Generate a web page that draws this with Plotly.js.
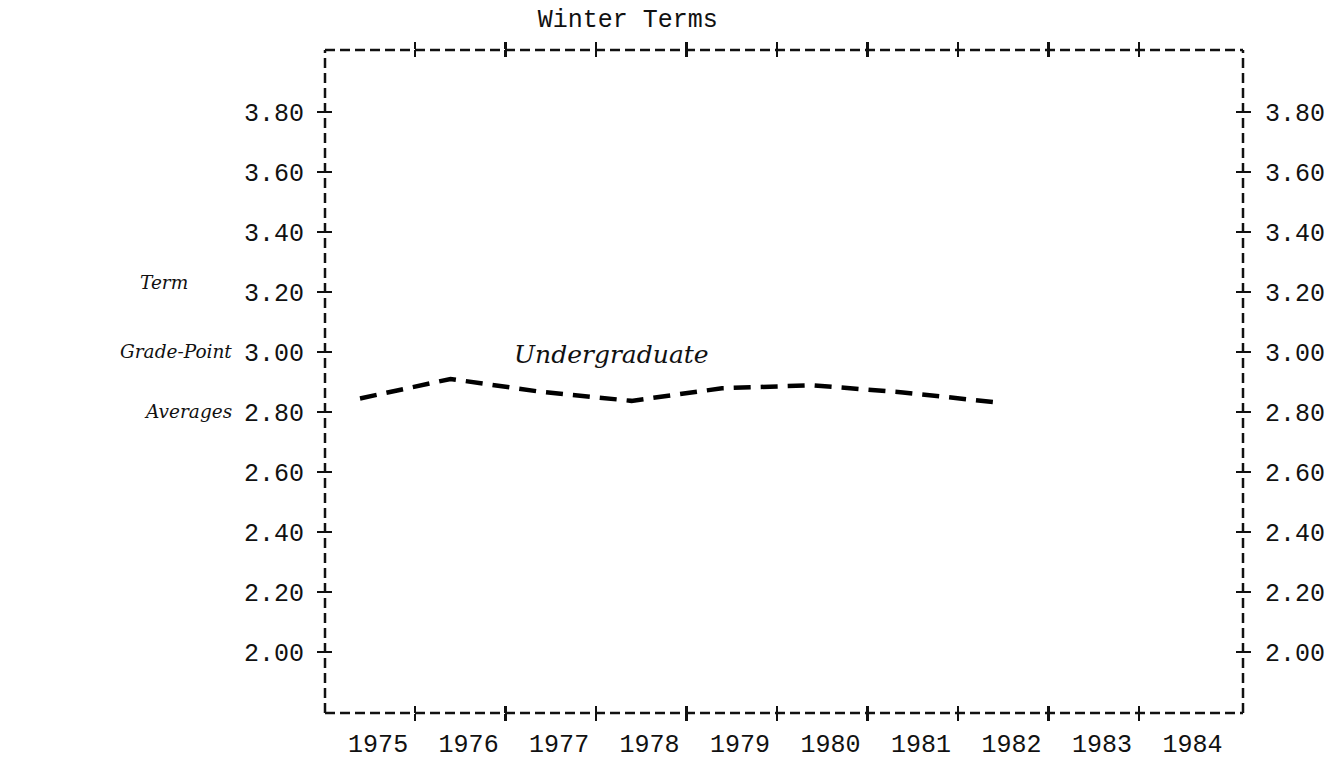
<!DOCTYPE html>
<html>
<head>
<meta charset="utf-8">
<script src="https://cdn.plot.ly/plotly-3.0.1.min.js"></script>
<style>html,body{margin:0;padding:0;background:#fff;}#chart{width:1344px;height:759px;}</style>
</head>
<body>
<div id="chart"></div>
<script>
// ---- data ----
var years = [1975, 1976, 1977, 1978, 1979, 1980, 1981, 1982];
var gpaUndergrad = [2.845, 2.91, 2.867, 2.837, 2.879, 2.889, 2.865, 2.833];
var yearLabels = ['1975','1976','1977','1978','1979','1980','1981','1982','1983','1984'];
var yTickVals = [2.0, 2.2, 2.4, 2.6, 2.8, 3.0, 3.2, 3.4, 3.6, 3.8];
var yTickText = ['2.00','2.20','2.40','2.60','2.80','3.00','3.20','3.40','3.60','3.80'];
var seriesName = 'Undergraduate';
var titleText = 'Winter Terms';
var yTitleLines = ['Term', 'Grade-Point', 'Averages'];

// ---- layout helpers ----
var xRange = [1974.613, 1984.757];
var yRange = [1.797, 4.006];
var labelPos = [], plusPos = [];
for (var i = 0; i < yearLabels.length; i++) labelPos.push(+yearLabels[i] + 0.2);
for (var j = 0; j < 9; j++) plusPos.push(1975.608 + j);

var mono = 'Liberation Mono, Courier New, monospace';
var ital = 'DejaVu Serif, Liberation Serif, serif';
var tickFont = {family: mono, size: 25, color: '#111'};
var TL = 7, TW = 2.3;

function ax(range, extra) {
  var a = {range: range, showgrid: false, zeroline: false, showline: false,
           fixedrange: true, tickcolor: '#111', tickwidth: TW, ticklen: TL};
  for (var k in extra) a[k] = extra[k];
  return a;
}

var traces = [{
  x: years, y: gpaUndergrad, type: 'scatter', mode: 'lines',
  name: seriesName, showlegend: false, hoverinfo: 'skip',
  line: {color: '#000', width: 4.5, dash: '17px,10px'}
}];
// empty helper traces so that every overlay axis is drawn
var overlayPairs = [['x2','y'],['x3','y'],['x4','y'],['x5','y'],['x','y2'],['x','y3'],['x','y4'],['x','y5'],['x','y6']];
overlayPairs.forEach(function (p) {
  traces.push({x: [], y: [], type: 'scatter', mode: 'lines', xaxis: p[0], yaxis: p[1], showlegend: false, hoverinfo: 'skip'});
});

var border = {color: '#111', width: 2.5, dash: '10px,5px'};
var shapes = [
  {type: 'line', xref: 'paper', yref: 'paper', x0: 0, x1: 1, y0: 1, y1: 1, line: border},
  {type: 'line', xref: 'paper', yref: 'paper', x0: 0, x1: 1, y0: 0, y1: 0, line: border},
  {type: 'line', xref: 'paper', yref: 'paper', x0: 0, x1: 0, y0: 0, y1: 1, line: border},
  {type: 'line', xref: 'paper', yref: 'paper', x0: 1, x1: 1, y0: 0, y1: 1, line: border}
];

var annotations = [];
var yTitleY = [3.23, 3.0, 2.8];
var yTitleX = [-0.2033, -0.2259, -0.1994];
for (var m = 0; m < yTitleLines.length; m++) {
  annotations.push({text: yTitleLines[m], xref: 'paper', yref: 'y', x: yTitleX[m], y: yTitleY[m],
    xanchor: 'left', yanchor: 'middle', showarrow: false,
    font: {family: ital, size: 18.5, color: '#111', style: 'italic'}});
}
annotations.push({text: seriesName, xref: 'x', yref: 'y', x: 1977.78, y: 2.99,
  xanchor: 'center', yanchor: 'middle', showarrow: false,
  font: {family: ital, size: 25, color: '#111', style: 'italic'}});

var layout = {
  width: 1344, height: 759,
  margin: {l: 325, r: 101, t: 50, b: 46, pad: 0},
  paper_bgcolor: '#fff', plot_bgcolor: '#fff',
  showlegend: false,
  title: {text: titleText, xref: 'container', yref: 'container', x: 0.467, y: 0.976,
          xanchor: 'center', yanchor: 'middle', font: {family: mono, size: 25, color: '#111'}},
  xaxis: ax(xRange, {tickvals: labelPos, ticktext: yearLabels, ticks: '', tickfont: tickFont, ticklabelstandoff: 13}),
  xaxis2: ax(xRange, {overlaying: 'x', anchor: 'y', side: 'bottom', tickvals: plusPos, ticks: 'outside', showticklabels: false}),
  xaxis3: ax(xRange, {overlaying: 'x', anchor: 'y', side: 'bottom', tickvals: plusPos, ticks: 'inside', showticklabels: false}),
  xaxis4: ax(xRange, {overlaying: 'x', anchor: 'y', side: 'top', tickvals: plusPos, ticks: 'outside', showticklabels: false}),
  xaxis5: ax(xRange, {overlaying: 'x', anchor: 'y', side: 'top', tickvals: plusPos, ticks: 'inside', showticklabels: false}),
  yaxis: ax(yRange, {tickvals: yTickVals, ticktext: yTickText, ticks: '', tickfont: tickFont, ticklabelstandoff: 20}),
  yaxis2: ax(yRange, {overlaying: 'y', anchor: 'x', side: 'left', tickvals: yTickVals, ticks: 'outside', showticklabels: false}),
  yaxis3: ax(yRange, {overlaying: 'y', anchor: 'x', side: 'left', tickvals: yTickVals, ticks: 'inside', showticklabels: false}),
  yaxis4: ax(yRange, {overlaying: 'y', anchor: 'x', side: 'right', tickvals: yTickVals, ticktext: yTickText, ticks: '', tickfont: tickFont, ticklabelstandoff: 21}),
  yaxis5: ax(yRange, {overlaying: 'y', anchor: 'x', side: 'right', tickvals: yTickVals, ticks: 'outside', showticklabels: false}),
  yaxis6: ax(yRange, {overlaying: 'y', anchor: 'x', side: 'right', tickvals: yTickVals, ticks: 'inside', showticklabels: false}),
  shapes: shapes,
  annotations: annotations
};

Plotly.newPlot('chart', traces, layout, {displayModeBar: false, staticPlot: true});
</script>
</body>
</html>
